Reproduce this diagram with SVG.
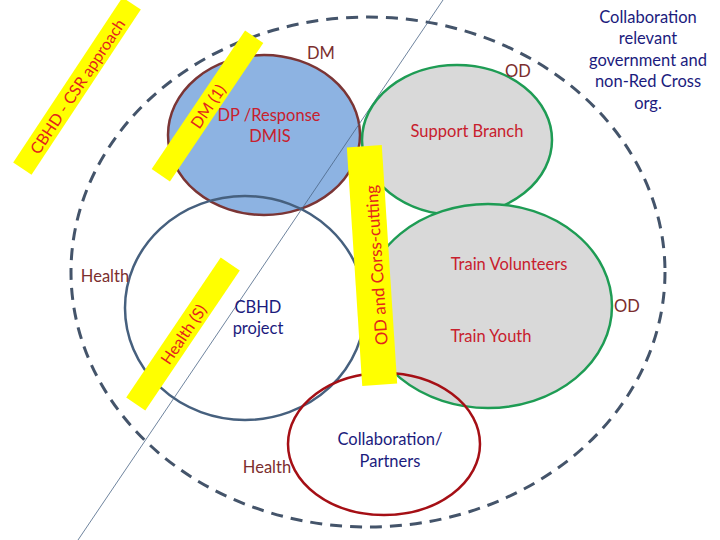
<svg xmlns="http://www.w3.org/2000/svg" width="720" height="540" viewBox="0 0 720 540">
<style>
text{font-family:Lato,"Liberation Sans",sans-serif;font-size:16.5px;text-anchor:middle}
.bar{fill:#ffff00}
.bt{fill:#e3241b;dominant-baseline:central;font-size:16px}
.red{fill:#c8202d}
.mar{fill:#7b2e2e}
.navy{fill:#1b1b7d}
.ring{stroke-width:2.5}
</style>
<rect width="720" height="540" fill="#ffffff"/>
<g id="outer"><ellipse cx="368" cy="272" rx="297" ry="255" fill="none" stroke="#44546a" stroke-width="3" stroke-dasharray="12 8"/></g>
<g id="dm">
<ellipse class="ring" cx="264" cy="135" rx="96" ry="80" fill="#8db3e2" stroke="#7b3535"/>
<text class="mar" x="321" y="59">DM</text>
<text class="red" x="269" y="121">DP /Response</text>
<text class="red" x="270" y="142">DMIS</text>
</g>
<g id="connectors"><line x1="443" y1="0" x2="78" y2="540" stroke="#4a6585" stroke-width="0.8"/></g>
<g id="support">
<ellipse class="ring" cx="457" cy="140" rx="95" ry="75" fill="#d9d9d9" stroke="#1e9c54"/>
<text class="mar" x="518" y="77">OD</text>
<text class="red" x="467" y="137">Support Branch</text>
</g>
<g id="train">
<ellipse class="ring" cx="488" cy="306" rx="124" ry="102" fill="#d9d9d9" stroke="#1e9c54"/>
<text class="red" x="509" y="270">Train Volunteers</text>
<text class="red" x="491" y="342">Train Youth</text>
<text class="mar" x="627" y="312">OD</text>
</g>
<g id="health">
<ellipse class="ring" cx="245" cy="308" rx="120" ry="112" fill="none" stroke="#46607e"/>
<text class="mar" x="105" y="282">Health</text>
<text class="navy" x="258" y="313">CBHD</text>
<text class="navy" x="258" y="334">project</text>
<text class="mar" x="267" y="473">Health</text>
</g>
<g id="collab">
<ellipse class="ring" cx="384" cy="444" rx="96" ry="71" fill="none" stroke="#a50f15"/>
<text class="navy" x="390" y="445">Collaboration/</text>
<text class="navy" x="390" y="467">Partners</text>
</g>
<g id="external">
<text class="navy" x="648" y="23">Collaboration</text>
<text class="navy" x="648" y="44">relevant</text>
<text class="navy" x="648" y="66">government and</text>
<text class="navy" x="648" y="87">non-Red Cross</text>
<text class="navy" x="648" y="109">org.</text>
</g>
<g id="bar-cbhd" transform="translate(77,86) rotate(-56.5)">
<rect class="bar" x="-99" y="-11" width="198" height="22"/>
<text class="bt" x="0" y="0">CBHD - CSR approach</text>
</g>
<g id="bar-dm" transform="translate(207.5,106) rotate(-56)">
<rect class="bar" x="-83.5" y="-11" width="167" height="22"/>
<text class="bt" x="0" y="0">DM (1)</text>
</g>
<g id="bar-health" transform="translate(183,334) rotate(-56)">
<rect class="bar" x="-84.5" y="-11.5" width="169" height="23"/>
<text class="bt" x="0" y="0">Health (S)</text>
</g>
<g id="bar-od" transform="translate(372,265.5) rotate(-3.7)">
<rect class="bar" x="-17.5" y="-119.5" width="35" height="239"/>
<text class="bt" transform="translate(4,0) rotate(-90)" x="0" y="0" style="font-size:16.8px">OD and Corss-cutting</text>
</g>
</svg>
